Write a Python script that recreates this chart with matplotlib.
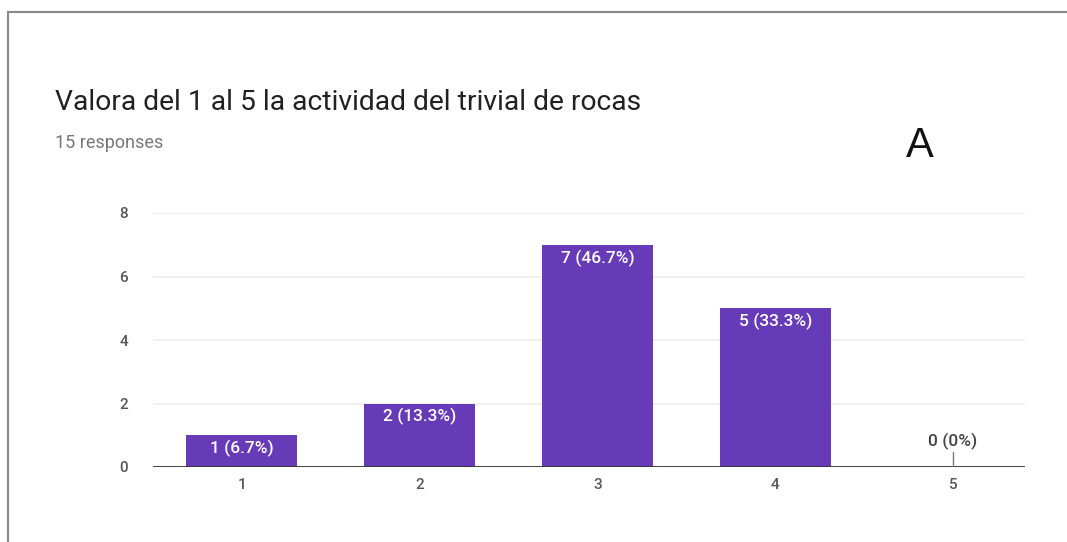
import matplotlib
matplotlib.use("Agg")
import matplotlib.pyplot as plt
from matplotlib.lines import Line2D

categories = ["1", "2", "3", "4", "5"]
counts = [1, 2, 7, 5, 0]
labels = ["1 (6.7%)", "2 (13.3%)", "7 (46.7%)", "5 (33.3%)", "0 (0%)"]
yticks = [0, 2, 4, 6, 8]

W, H = 1067, 542
fig = plt.figure(figsize=(W / 100, H / 100), dpi=100)
plt.rcParams['font.family'] = ['Roboto', 'DejaVu Sans']

ax = fig.add_axes([153 / W, 1 - 467 / H, (1025 - 153) / W, (467 - 213) / H])
x = list(range(1, len(categories) + 1))
ax.bar(x, counts, width=0.625, color="#673AB7", zorder=3)
ax.set_xlim(0.5, 5.405)
ax.set_ylim(0, 8)
ax.set_yticks(yticks)
ax.set_xticks(x)
ax.set_xticklabels(categories)
ax.tick_params(axis='both', length=0, labelsize=11, labelcolor="#555555")
for t in ax.get_xticklabels() + ax.get_yticklabels():
    t.set_fontweight('medium')
ax.tick_params(axis='x', pad=8)
ax.tick_params(axis='y', pad=18)
for s in ax.spines.values():
    s.set_visible(False)
ax.grid(axis='y', color="#eeeeee", linewidth=1.2, zorder=0)
ax.axhline(0, color="#333333", linewidth=2, zorder=4)

for xi, c, lab in zip(x, counts, labels):
    if c > 0:
        ax.text(xi, c - 0.15, lab, ha='center', va='top', color='white',
                fontsize=12.5, fontweight='medium', zorder=5)
    else:
        ax.plot([xi, xi], [0, 0.47], color="#777777", linewidth=1, zorder=4)
        ax.text(xi, 0.53, lab, ha='center', va='bottom', color="#444444",
                fontsize=12.5, fontweight='medium', zorder=5)

fig.text(55 / W, 1 - 103 / H, "Valora del 1 al 5 la actividad del trivial de rocas",
         fontsize=20.3, color="#212121", va='center', ha='left')
fig.text(55 / W, 1 - 143 / H, "15 responses", fontsize=13, color="#777777",
         va='center', ha='left')
fig.text(920 / W, 1 - 146 / H, "A", fontsize=30, color="#111111", va='center',
         ha='center', family=['Liberation Sans', 'DejaVu Sans'])

fig.add_artist(Line2D([8 / W, 8 / W], [0, 1 - 12 / H], transform=fig.transFigure,
                      color="#888888", linewidth=1.5))
fig.add_artist(Line2D([8 / W, 1], [1 - 12 / H, 1 - 12 / H], transform=fig.transFigure,
                      color="#888888", linewidth=1.5))

fig.savefig("out.png", dpi=100, facecolor="white")
